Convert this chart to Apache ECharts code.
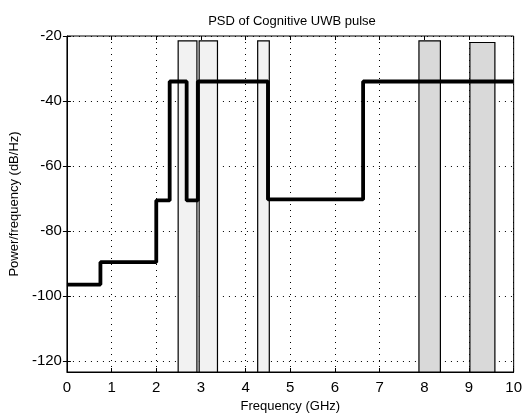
<!DOCTYPE html>
<html><head><meta charset="utf-8">
<script src="https://cdn.jsdelivr.net/npm/echarts@6/dist/echarts.min.js"></script>
<style>html,body{margin:0;padding:0;background:#fff}#c{width:525px;height:418px}</style>
</head><body><div id="c"></div>
<script>
// PSD mask (step line): breakpoints (GHz) and level held from each breakpoint (dB/Hz)
const maskFreq  = [0, 0.75, 2.0, 2.3, 2.68, 2.93, 4.5, 6.63, 10];
const maskLevel = [-96.5, -89.6, -70.6, -34, -70.6, -34, -70.3, -34, -34];
// Narrowband interferer bands
const bandStart = [2.49, 2.96, 4.27, 7.88, 9.02];
const bandEnd   = [2.91, 3.37, 4.53, 8.36, 9.58];
const bandTop   = [-21.5, -21.5, -21.5, -21.5, -22];
const bandShade = [0, 0, 0, 1, 1];
// Axis ticks
const xTicks = [0,1,2,3,4,5,6,7,8,9,10];
const yTicks = [-120,-100,-80,-60,-40,-20];
const yMin = -123.4, yMax = -20;

const font = "'Liberation Sans Narrow','Liberation Sans',Arial,sans-serif";
const chart = echarts.init(document.getElementById('c'), null, {renderer:'canvas'});
const maskData = maskFreq.map((f,i)=>[f, maskLevel[i]]);
const bandData = bandStart.map((s,i)=>[s, bandEnd[i], bandTop[i], bandShade[i]]);

chart.setOption({
  animation:false,
  backgroundColor:'#fff',
  title:{text:'PSD of Cognitive UWB pulse', left:287, top:10, textAlign:'center',
    textStyle:{fontFamily:font, fontSize:13, fontWeight:'normal', color:'#000'}},
  grid:{left:59, right:9, top:36, bottom:46, show:true, borderColor:'#000', borderWidth:1},
  xAxis:[{type:'value', min:0, max:10, interval:1,
    name:'Frequency (GHz)', nameLocation:'middle', nameGap:26,
    nameTextStyle:{fontFamily:font, fontSize:13, color:'#000'},
    axisLine:{lineStyle:{color:'#000'}},
    axisTick:{inside:true, length:4, customValues:xTicks, lineStyle:{color:'#000'}},
    axisLabel:{fontFamily:font, fontSize:15, color:'#000', margin:8, customValues:xTicks},
    splitLine:{show:true, lineStyle:{color:'#000', type:[1,5], width:1}}},
   {type:'value', position:'top', min:0, max:10, interval:1,
    axisLine:{show:false}, axisLabel:{show:false}, splitLine:{show:false},
    axisTick:{inside:true, length:4, lineStyle:{color:'#000'}}}],
  yAxis:[{type:'value', min:yMin, max:yMax,
    name:'Power/frequency (dB/Hz)', nameLocation:'middle', nameGap:38,
    nameTextStyle:{fontFamily:font, fontSize:13, color:'#000'},
    axisLine:{lineStyle:{color:'#000'}},
    axisTick:{inside:true, length:4, customValues:yTicks, lineStyle:{color:'#000'}},
    axisLabel:{fontFamily:font, fontSize:15, color:'#000', margin:5, customValues:yTicks},
    splitLine:{show:true, lineStyle:{color:'#000', type:[1,5], width:1}}},
   {type:'value', position:'right', min:yMin, max:yMax,
    axisLine:{show:false}, axisLabel:{show:false, customValues:yTicks}, splitLine:{show:false},
    axisTick:{inside:true, length:4, customValues:yTicks, lineStyle:{color:'#000'}}}],
  series:[
    {type:'custom', data:bandData, z:2,
     renderItem:function(params, api){
       const p0 = api.coord([api.value(0), api.value(2)]);
       const p1 = api.coord([api.value(1), yMin]);
       return {type:'rect', shape:{x:p0[0], y:p0[1], width:p1[0]-p0[0], height:p1[1]-p0[1]},
         style:{fill: api.value(3) ? '#d9d9d9' : '#f2f2f2', stroke:'#000', lineWidth:1.2}};
     }},
    {type:'line', data:maskData, step:'end', symbol:'none', z:3,
     lineStyle:{color:'#000', width:3.8}}
  ]
});
</script></body></html>
